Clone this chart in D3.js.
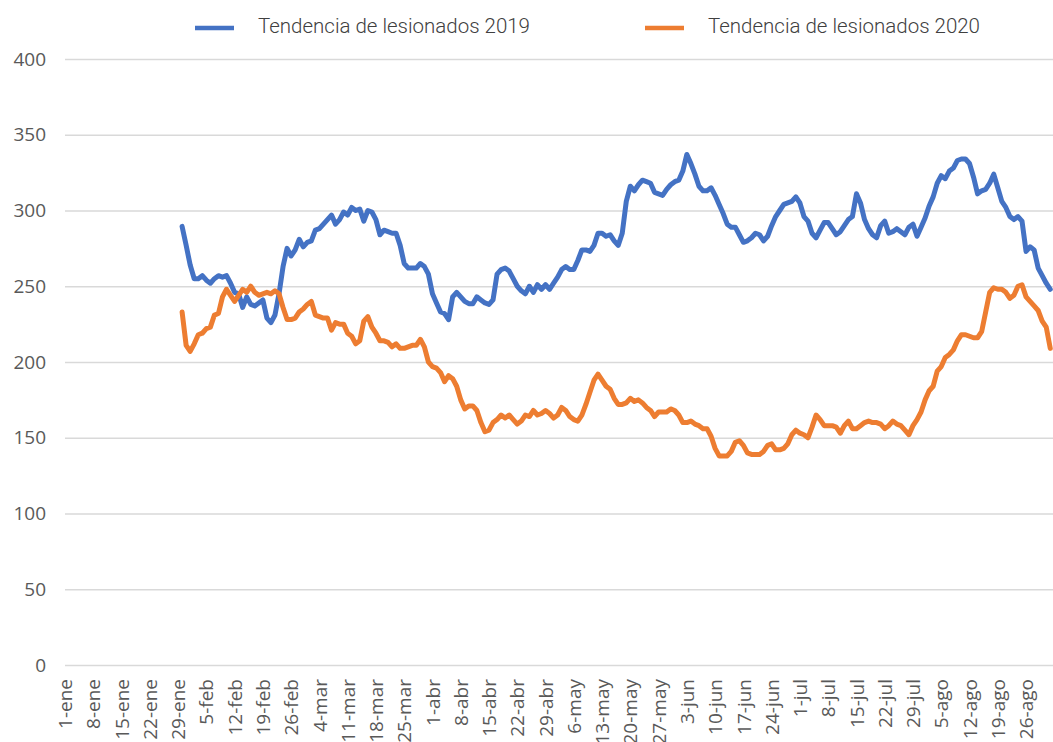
<!DOCTYPE html>
<html>
<head>
<meta charset="utf-8">
<script src="https://cdn.jsdelivr.net/npm/d3@7"></script>
<style>
  body { margin: 0; background: #fff; }
  svg { display: block; }
</style>
</head>
<body>
<div id="chart"></div>
<script>
// series names and colours
const seriesNames = ['Tendencia de lesionados 2019', 'Tendencia de lesionados 2020'];
const seriesColors = ['#4472C4', '#ED7D31'];

// first day with a value (30-day trend), one value per day after that
const firstDay = new Date(Date.UTC(2019, 0, 30));

const lesionados2019 = [
  289.5, 277, 264, 255, 255, 257, 254, 252, 255, 257,
  256, 257, 252, 246, 245, 236, 243, 238, 237, 239,
  241, 229, 226, 231, 245, 263, 275, 270, 274, 281,
  276, 279, 280, 287, 288, 291, 294, 297, 291, 294,
  299, 297, 302, 300, 301, 293, 300, 299, 294, 284,
  287, 286, 285, 285, 277, 265, 262, 262, 262, 265,
  263, 258, 245, 239, 233, 232, 228, 243, 246, 243,
  240, 238.5, 238.5, 243, 241, 239, 238, 241, 258, 261,
  262, 260, 255, 250, 247, 245, 250, 246, 251, 248,
  251, 248, 252, 256, 261, 263, 261, 261, 267, 274,
  274, 273, 277, 285, 285, 283, 284, 280, 277, 285,
  306, 316, 313, 317, 320, 319, 318, 312, 311, 310,
  314, 317, 319, 320, 326, 337, 331, 324, 316, 313,
  313, 315, 310, 304, 298, 291, 289, 289, 284, 279,
  280, 282, 285, 284, 280, 283, 290, 296, 300, 304,
  305, 306, 309, 305, 296, 293, 285, 282, 287, 292,
  292, 288, 284, 286, 290, 294, 296, 311, 305, 294,
  288, 284, 282, 290, 293, 285, 286, 288, 286, 284,
  289, 291, 283, 289, 295, 303, 309, 318, 323, 321,
  326, 328, 333, 334, 334, 331, 322, 311, 313, 314,
  318, 324, 315, 306, 302, 296, 294, 296, 293, 273,
  276, 274, 262, 257, 252, 248
];

const lesionados2020 = [
  233, 211, 207, 212, 218, 219, 222, 223, 231, 232,
  243, 248, 244, 240, 244, 248, 246, 250, 246, 244,
  245, 246, 245, 247, 245, 236, 228, 228, 229, 233,
  235, 238, 240, 231, 230, 229, 229, 221, 226, 225,
  225, 219, 217, 212, 214, 227, 230, 223, 219, 214,
  214, 213, 210, 212, 209, 209, 210, 211, 211, 215,
  210, 200, 197, 196, 193, 187, 191, 189, 184, 175,
  169, 171, 171, 168, 160, 154, 155, 160, 162, 165,
  163, 165, 162, 159, 161, 165, 164, 168, 165, 166,
  168, 166, 163, 165, 170, 168, 164, 162, 161, 165,
  172, 180, 188, 192, 188, 184, 182, 176, 172, 172,
  173, 176, 174, 175, 173, 170, 168, 164, 167, 167,
  167, 169, 168, 165, 160, 160, 161, 159, 158, 156,
  156, 151, 143, 138, 138, 138, 141, 147, 148, 145,
  140, 139, 139, 139, 141, 145, 146, 142, 142, 143,
  146, 152, 155, 153, 152, 150, 157, 165, 162, 158,
  158, 158, 157, 153, 158, 161, 156, 156, 158, 160,
  161, 160, 160, 159, 156, 158, 161, 159, 158, 155,
  152, 158, 162, 167, 175, 181, 184, 194, 197, 203,
  205, 208, 214, 218, 218, 217, 216, 216, 220, 233,
  246, 249, 248, 248, 246, 242, 244, 250, 251, 243,
  240, 237, 234, 227, 223, 209
];

// axis ticks
const yTicks = [0, 50, 100, 150, 200, 250, 300, 350, 400];
const xTickLabels = [
  '1-ene', '8-ene', '15-ene', '22-ene', '29-ene', '5-feb', '12-feb', '19-feb', '26-feb',
  '4-mar', '11-mar', '18-mar', '25-mar', '1-abr', '8-abr', '15-abr', '22-abr', '29-abr',
  '6-may', '13-may', '20-may', '27-may', '3-jun', '10-jun', '17-jun', '24-jun',
  '1-jul', '8-jul', '15-jul', '22-jul', '29-jul', '5-ago', '12-ago', '19-ago', '26-ago'
];

const width = 1053, height = 742;
const plot = { left: 65, right: 1053, top: 59, bottom: 665 };
const DAY = 864e5;
const axisStart = new Date(Date.UTC(2019, 0, 1));

const svg = d3.select('#chart').append('svg')
  .attr('width', width)
  .attr('height', height);

// scales
const x = d3.scaleUtc()
  .domain([axisStart, new Date(axisStart.getTime() + 244 * DAY)])
  .range([plot.left, plot.left + 244 * 4.038]);

const y = d3.scaleLinear()
  .domain([0, 400])
  .range([plot.bottom, plot.top]);

// y axis with gridlines
const yAxis = svg.append('g')
  .attr('transform', `translate(${plot.left},0)`)
  .call(d3.axisLeft(y).tickValues(yTicks).tickSize(-(plot.right - plot.left)).tickPadding(19));
yAxis.select('.domain').remove();
yAxis.selectAll('line').attr('stroke', '#d9d9d9').attr('stroke-width', 1.5);
yAxis.selectAll('text')
  .attr('fill', '#595959')
  .style('font-family', '"Open Sans", sans-serif')
  .style('font-size', '19px');

// x axis, one label a week, rotated
const xTickDates = xTickLabels.map((_, i) => new Date(axisStart.getTime() + i * 7 * DAY));
const xAxis = svg.append('g')
  .attr('transform', `translate(0,${plot.bottom})`)
  .call(d3.axisBottom(x).tickValues(xTickDates).tickSize(0).tickFormat((d, i) => xTickLabels[i]));
xAxis.select('.domain').remove();
xAxis.selectAll('text')
  .attr('transform', 'rotate(-90)')
  .attr('x', -14)
  .attr('y', 0)
  .attr('dy', '0.35em')
  .attr('text-anchor', 'end')
  .attr('fill', '#595959')
  .style('font-family', '"Open Sans", sans-serif')
  .style('font-size', '19px');

// lines
const series = [lesionados2019, lesionados2020];
const line = d3.line()
  .x((d, i) => x(new Date(firstDay.getTime() + i * DAY)))
  .y(d => y(d));

series.forEach((values, k) => {
  svg.append('path')
    .datum(values)
    .attr('fill', 'none')
    .attr('stroke', seriesColors[k])
    .attr('stroke-width', 5)
    .attr('stroke-linejoin', 'round')
    .attr('stroke-linecap', 'round')
    .attr('d', line);
});

// legend
const legendX = [195, 645];
const legend = svg.append('g');
seriesNames.forEach((name, k) => {
  legend.append('line')
    .attr('x1', legendX[k]).attr('x2', legendX[k] + 39)
    .attr('y1', 28).attr('y2', 28)
    .attr('stroke', seriesColors[k])
    .attr('stroke-width', 4.5);
  legend.append('text')
    .attr('x', legendX[k] + 63)
    .attr('y', 32.5)
    .attr('fill', '#404040')
    .attr('textLength', 272)
    .attr('lengthAdjust', 'spacingAndGlyphs')
    .style('font-family', 'Roboto, sans-serif')
    .style('font-weight', 300)
    .style('font-size', '21px')
    .text(name);
});
</script>
</body>
</html>
